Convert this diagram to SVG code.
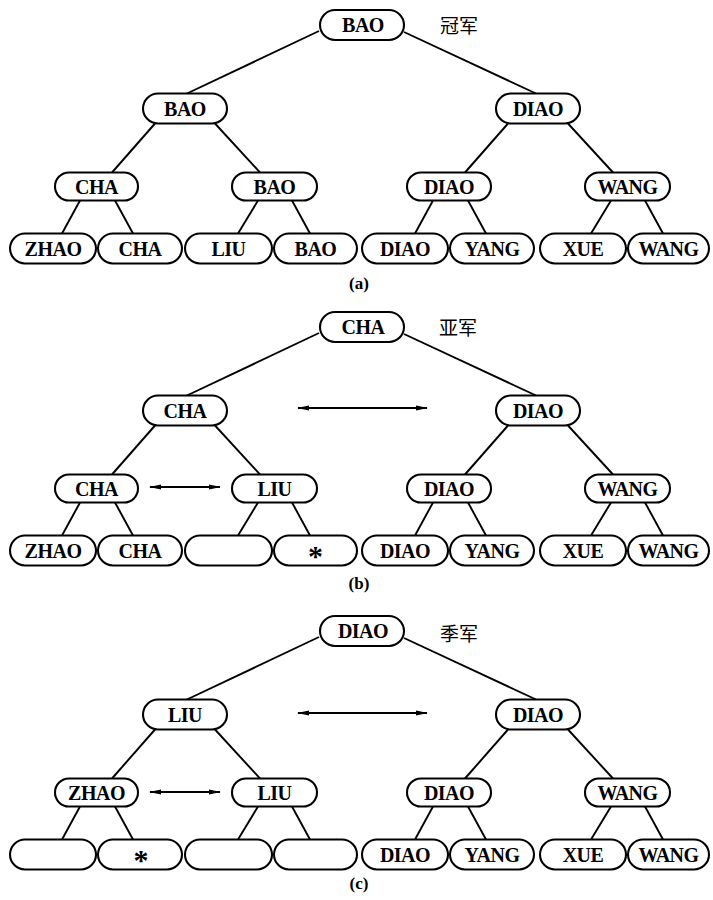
<svg xmlns="http://www.w3.org/2000/svg" width="713" height="900" viewBox="0 0 713 900">
<style>
.n{fill:#fff;stroke:#000;stroke-width:2.1}
.t{font-family:"Liberation Serif","Times New Roman",serif;font-weight:bold;font-size:20px;text-anchor:middle;fill:#000;letter-spacing:-0.5px}
.s{font-family:"Liberation Serif","Times New Roman",serif;font-weight:bold;font-size:30px;text-anchor:middle;fill:#000}
.e{stroke:#000;stroke-width:1.9;fill:none}
.ar{stroke:#000;stroke-width:1.8;fill:none;marker-start:url(#ah);marker-end:url(#ah)}
.cn{font-family:"Noto Sans CJK SC",sans-serif;font-size:19px;fill:#000}
.lb{font-family:"Liberation Serif","Times New Roman",serif;font-weight:bold;font-size:17px;text-anchor:middle;fill:#000}
</style>
<defs>
<marker id="ah" viewBox="0 0 12 6" refX="11" refY="3" markerWidth="12" markerHeight="6" markerUnits="userSpaceOnUse" orient="auto-start-reverse">
<path d="M0,0.5 L12,3 L0,5.5 Z" fill="#000"/>
</marker>
</defs>
<rect width="713" height="900" fill="#fff"/>

<!-- Panel (a) -->
<g id="panel-a">
<g id="a-edges">
<line class="e" x1="319" y1="31" x2="187" y2="93.5"/>
<line class="e" x1="404" y1="32" x2="536" y2="93.5"/>
<line class="e" x1="155" y1="123.5" x2="112" y2="172.5"/>
<line class="e" x1="215" y1="123.5" x2="260" y2="172.5"/>
<line class="e" x1="508" y1="123.5" x2="465" y2="172.5"/>
<line class="e" x1="568" y1="123.5" x2="613" y2="172.5"/>
<line class="e" x1="80" y1="200.5" x2="62" y2="233.5"/>
<line class="e" x1="115" y1="200.5" x2="133" y2="233.5"/>
<line class="e" x1="258" y1="200.5" x2="238" y2="233.5"/>
<line class="e" x1="292" y1="200.5" x2="310" y2="233.5"/>
<line class="e" x1="433" y1="200.5" x2="415" y2="233.5"/>
<line class="e" x1="468" y1="200.5" x2="486" y2="233.5"/>
<line class="e" x1="611" y1="200.5" x2="591" y2="233.5"/>
<line class="e" x1="645" y1="200.5" x2="663" y2="233.5"/>
</g>
<g id="a-root"><rect class="n" x="320" y="10" width="84" height="30" rx="15"/><text class="t" x="363" y="32">BAO</text></g>
<text class="cn" x="440" y="33">冠军</text>
<g id="a-l1-0"><rect class="n" x="143" y="93.5" width="84" height="30" rx="15"/><text class="t" x="185" y="115.5">BAO</text></g>
<g id="a-l1-1"><rect class="n" x="496" y="93.5" width="84" height="30" rx="15"/><text class="t" x="538" y="115.5">DIAO</text></g>
<g id="a-l2-0"><rect class="n" x="55" y="172.5" width="83" height="28" rx="14"/><text class="t" x="96.5" y="193.5">CHA</text></g>
<g id="a-l2-1"><rect class="n" x="232" y="172.5" width="85" height="28" rx="14"/><text class="t" x="274.5" y="193.5">BAO</text></g>
<g id="a-l2-2"><rect class="n" x="407" y="172.5" width="84" height="28" rx="14"/><text class="t" x="449" y="193.5">DIAO</text></g>
<g id="a-l2-3"><rect class="n" x="585" y="172.5" width="85" height="28" rx="14"/><text class="t" x="627.5" y="193.5">WANG</text></g>
<g id="a-l3-0"><rect class="n" x="10" y="233.5" width="86" height="30" rx="15"/><text class="t" x="53" y="255.5">ZHAO</text></g>
<g id="a-l3-1"><rect class="n" x="98" y="233.5" width="84" height="30" rx="15"/><text class="t" x="140" y="255.5">CHA</text></g>
<g id="a-l3-2"><rect class="n" x="185" y="233.5" width="87" height="30" rx="15"/><text class="t" x="228.5" y="255.5">LIU</text></g>
<g id="a-l3-3"><rect class="n" x="274" y="233.5" width="83" height="30" rx="15"/><text class="t" x="315.5" y="255.5">BAO</text></g>
<g id="a-l3-4"><rect class="n" x="362" y="233.5" width="86" height="30" rx="15"/><text class="t" x="405" y="255.5">DIAO</text></g>
<g id="a-l3-5"><rect class="n" x="450" y="233.5" width="84" height="30" rx="15"/><text class="t" x="492" y="255.5">YANG</text></g>
<g id="a-l3-6"><rect class="n" x="540" y="233.5" width="86" height="30" rx="15"/><text class="t" x="583" y="255.5">XUE</text></g>
<g id="a-l3-7"><rect class="n" x="628" y="233.5" width="81" height="30" rx="15"/><text class="t" x="668.5" y="255.5">WANG</text></g>
<text class="lb" x="359" y="289">(a)</text>
</g>

<!-- Panel (b) -->
<g id="panel-b" transform="translate(0,302)">
<g id="b-edges">
<line class="e" x1="319" y1="31" x2="187" y2="93.5"/>
<line class="e" x1="404" y1="32" x2="536" y2="93.5"/>
<line class="e" x1="155" y1="123.5" x2="112" y2="172.5"/>
<line class="e" x1="215" y1="123.5" x2="260" y2="172.5"/>
<line class="e" x1="508" y1="123.5" x2="465" y2="172.5"/>
<line class="e" x1="568" y1="123.5" x2="613" y2="172.5"/>
<line class="e" x1="80" y1="200.5" x2="62" y2="233.5"/>
<line class="e" x1="115" y1="200.5" x2="133" y2="233.5"/>
<line class="e" x1="258" y1="200.5" x2="238" y2="233.5"/>
<line class="e" x1="292" y1="200.5" x2="310" y2="233.5"/>
<line class="e" x1="433" y1="200.5" x2="415" y2="233.5"/>
<line class="e" x1="468" y1="200.5" x2="486" y2="233.5"/>
<line class="e" x1="611" y1="200.5" x2="591" y2="233.5"/>
<line class="e" x1="645" y1="200.5" x2="663" y2="233.5"/>
<line class="ar" x1="298" y1="106" x2="427" y2="106"/>
<line class="ar" x1="150" y1="185" x2="220" y2="185"/>
</g>
<g id="b-root"><rect class="n" x="320" y="10" width="84" height="30" rx="15"/><text class="t" x="363" y="32">CHA</text></g>
<text class="cn" x="439" y="33">亚军</text>
<g id="b-l1-0"><rect class="n" x="143" y="93.5" width="84" height="30" rx="15"/><text class="t" x="185" y="115.5">CHA</text></g>
<g id="b-l1-1"><rect class="n" x="496" y="93.5" width="84" height="30" rx="15"/><text class="t" x="538" y="115.5">DIAO</text></g>
<g id="b-l2-0"><rect class="n" x="55" y="172.5" width="83" height="28" rx="14"/><text class="t" x="96.5" y="193.5">CHA</text></g>
<g id="b-l2-1"><rect class="n" x="232" y="172.5" width="85" height="28" rx="14"/><text class="t" x="274.5" y="193.5">LIU</text></g>
<g id="b-l2-2"><rect class="n" x="407" y="172.5" width="84" height="28" rx="14"/><text class="t" x="449" y="193.5">DIAO</text></g>
<g id="b-l2-3"><rect class="n" x="585" y="172.5" width="85" height="28" rx="14"/><text class="t" x="627.5" y="193.5">WANG</text></g>
<g id="b-l3-0"><rect class="n" x="10" y="233.5" width="86" height="30" rx="15"/><text class="t" x="53" y="255.5">ZHAO</text></g>
<g id="b-l3-1"><rect class="n" x="98" y="233.5" width="84" height="30" rx="15"/><text class="t" x="140" y="255.5">CHA</text></g>
<g id="b-l3-2"><rect class="n" x="185" y="233.5" width="87" height="30" rx="15"/></g>
<g id="b-l3-3"><rect class="n" x="274" y="233.5" width="83" height="30" rx="15"/><text class="s" x="315.5" y="264">*</text></g>
<g id="b-l3-4"><rect class="n" x="362" y="233.5" width="86" height="30" rx="15"/><text class="t" x="405" y="255.5">DIAO</text></g>
<g id="b-l3-5"><rect class="n" x="450" y="233.5" width="84" height="30" rx="15"/><text class="t" x="492" y="255.5">YANG</text></g>
<g id="b-l3-6"><rect class="n" x="540" y="233.5" width="86" height="30" rx="15"/><text class="t" x="583" y="255.5">XUE</text></g>
<g id="b-l3-7"><rect class="n" x="628" y="233.5" width="81" height="30" rx="15"/><text class="t" x="668.5" y="255.5">WANG</text></g>
<text class="lb" x="359" y="287">(b)</text>
</g>

<!-- Panel (c) -->
<g id="panel-c" transform="translate(0,606)">
<g id="c-edges">
<line class="e" x1="319" y1="31" x2="187" y2="93.5"/>
<line class="e" x1="404" y1="32" x2="536" y2="93.5"/>
<line class="e" x1="155" y1="123.5" x2="112" y2="172.5"/>
<line class="e" x1="215" y1="123.5" x2="260" y2="172.5"/>
<line class="e" x1="508" y1="123.5" x2="465" y2="172.5"/>
<line class="e" x1="568" y1="123.5" x2="613" y2="172.5"/>
<line class="e" x1="80" y1="200.5" x2="62" y2="233.5"/>
<line class="e" x1="115" y1="200.5" x2="133" y2="233.5"/>
<line class="e" x1="258" y1="200.5" x2="238" y2="233.5"/>
<line class="e" x1="292" y1="200.5" x2="310" y2="233.5"/>
<line class="e" x1="433" y1="200.5" x2="415" y2="233.5"/>
<line class="e" x1="468" y1="200.5" x2="486" y2="233.5"/>
<line class="e" x1="611" y1="200.5" x2="591" y2="233.5"/>
<line class="e" x1="645" y1="200.5" x2="663" y2="233.5"/>
<line class="ar" x1="298" y1="107" x2="427" y2="107"/>
<line class="ar" x1="150" y1="186" x2="220" y2="186"/>
</g>
<g id="c-root"><rect class="n" x="320" y="10" width="84" height="30" rx="15"/><text class="t" x="363" y="32">DIAO</text></g>
<text class="cn" x="440" y="35">季军</text>
<g id="c-l1-0"><rect class="n" x="143" y="93.5" width="84" height="30" rx="15"/><text class="t" x="185" y="115.5">LIU</text></g>
<g id="c-l1-1"><rect class="n" x="496" y="93.5" width="84" height="30" rx="15"/><text class="t" x="538" y="115.5">DIAO</text></g>
<g id="c-l2-0"><rect class="n" x="55" y="172.5" width="83" height="28" rx="14"/><text class="t" x="96.5" y="193.5">ZHAO</text></g>
<g id="c-l2-1"><rect class="n" x="232" y="172.5" width="85" height="28" rx="14"/><text class="t" x="274.5" y="193.5">LIU</text></g>
<g id="c-l2-2"><rect class="n" x="407" y="172.5" width="84" height="28" rx="14"/><text class="t" x="449" y="193.5">DIAO</text></g>
<g id="c-l2-3"><rect class="n" x="585" y="172.5" width="85" height="28" rx="14"/><text class="t" x="627.5" y="193.5">WANG</text></g>
<g id="c-l3-0"><rect class="n" x="10" y="233.5" width="86" height="30" rx="15"/></g>
<g id="c-l3-1"><rect class="n" x="98" y="233.5" width="84" height="30" rx="15"/><text class="s" x="141" y="264">*</text></g>
<g id="c-l3-2"><rect class="n" x="185" y="233.5" width="87" height="30" rx="15"/></g>
<g id="c-l3-3"><rect class="n" x="274" y="233.5" width="83" height="30" rx="15"/></g>
<g id="c-l3-4"><rect class="n" x="362" y="233.5" width="86" height="30" rx="15"/><text class="t" x="405" y="255.5">DIAO</text></g>
<g id="c-l3-5"><rect class="n" x="450" y="233.5" width="84" height="30" rx="15"/><text class="t" x="492" y="255.5">YANG</text></g>
<g id="c-l3-6"><rect class="n" x="540" y="233.5" width="86" height="30" rx="15"/><text class="t" x="583" y="255.5">XUE</text></g>
<g id="c-l3-7"><rect class="n" x="628" y="233.5" width="81" height="30" rx="15"/><text class="t" x="668.5" y="255.5">WANG</text></g>
<text class="lb" x="359" y="283">(c)</text>
</g>
</svg>
